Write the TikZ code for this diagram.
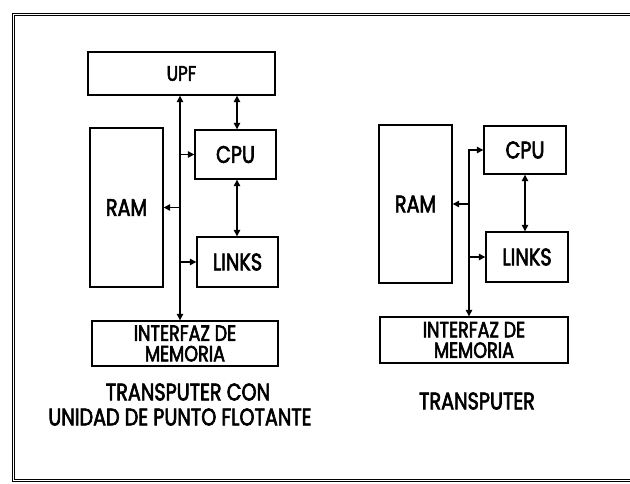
\documentclass[tikz,border=0pt]{standalone}
\usepackage{fontspec}
\setmainfont[FakeStretch=0.8,FakeBold=2.6]{Poppins}
\usetikzlibrary{arrows.meta}
\begin{document}
\begin{tikzpicture}[x=1pt,y=-1pt,
  blk/.style={draw, line width=1.4pt, inner sep=0pt, font=\fontsize{24}{24}\selectfont},
  lbl/.style={inner sep=0pt, font=\fontsize{24}{24}\selectfont},
  conn/.style={line width=1.3pt, {Triangle[length=6.5pt,width=6.5pt]}-{Triangle[length=6.5pt,width=6.5pt]}},
  one/.style={line width=1.3pt, -{Triangle[length=6.5pt,width=6.5pt]}},
  frame/.style={line width=1pt, double, double distance=1pt}]
\useasboundingbox (0,0) rectangle (630,483);
\draw[frame] (640,14) -- (13,14) -- (13,480) -- (640,480);
% left
\node[blk, minimum width=187pt, minimum height=43pt, font=\fontsize{21}{21}\selectfont] (upf) at (181.5,73.5) {UPF};
\node[blk, minimum width=73pt, minimum height=159pt] (ram1) at (126.5,207.5) {RAM};
\node[blk, minimum width=81pt, minimum height=49pt] (cpu1) at (235.5,154.5) {CPU};
\node[blk, minimum width=81pt, minimum height=50pt] (links1) at (237.5,262) {LINKS};
\node[blk, minimum width=186pt, minimum height=45pt, align=center, font=\fontsize{22}{20.5}\selectfont] (mem1) at (185,343.5) {INTERFAZ DE\\MEMORIA};
\coordinate (bus1) at (180,0);
\coordinate (v1) at (237,0);
\draw[conn] (upf.south -| bus1) -- (mem1.north -| bus1);
\draw[conn] (upf.south -| v1) -- (cpu1.north -| v1);
\draw[conn] (cpu1.south -| v1) -- (links1.north -| v1);
\draw[one] (cpu1.west -| bus1) -- (cpu1.west);
\draw[one] (links1.west -| bus1) -- (links1.west);
\draw[one] (ram1.east -| bus1) -- (ram1.east);
\node[lbl] (t1) at (188,392) {TRANSPUTER CON};
\node[lbl] (t2) at (180,417) {UNIDAD DE PUNTO FLOTANTE};
% right
\node[blk, minimum width=73pt, minimum height=158pt] (ram2) at (415.5,204) {RAM};
\node[blk, minimum width=82pt, minimum height=48pt] (cpu2) at (525,150) {CPU};
\node[blk, minimum width=82pt, minimum height=50pt] (links2) at (527,257) {LINKS};
\node[blk, minimum width=188pt, minimum height=46pt, align=center, font=\fontsize{22}{20.5}\selectfont] (mem2) at (474,340) {INTERFAZ DE\\MEMORIA};
\coordinate (bus2) at (469,0);
\draw[conn] (cpu2.west) -| (mem2.north -| bus2);
\draw[conn] (cpu2.south) -- (links2.north -| cpu2.south);
\draw[one] (ram2.east -| bus2) -- (ram2.east);
\draw[one] (links2.west -| bus2) -- (links2.west);
\node[lbl] (t3) at (477,401) {TRANSPUTER};
\end{tikzpicture}
\end{document}
